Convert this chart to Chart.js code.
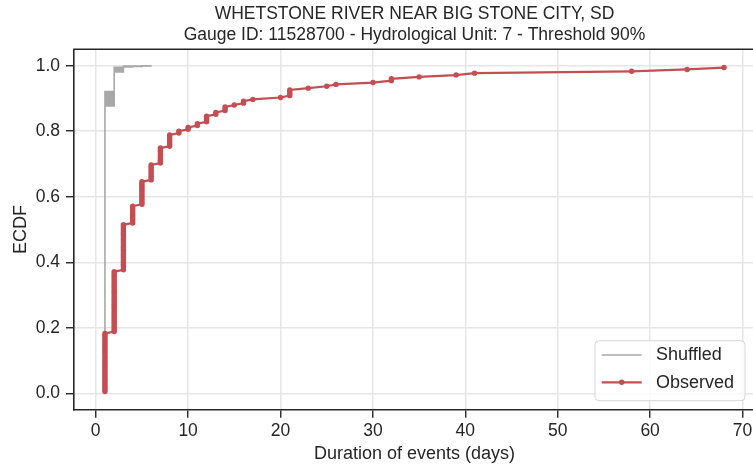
<!DOCTYPE html>
<html>
<head>
<meta charset="utf-8">
<script src="https://cdn.jsdelivr.net/npm/chart.js@4.4.1/dist/chart.umd.min.js"></script>
<style>
  html, body { margin: 0; padding: 0; background: #ffffff; overflow: hidden; }
  #wrap { width: 760px; height: 467px; }
</style>
</head>
<body>
<div id="wrap"><canvas id="ecdf" width="760" height="467"></canvas></div>
<script>
// ---- chart text ----
const titleLines = [
  'WHETSTONE RIVER NEAR BIG STONE CITY, SD',
  'Gauge ID: 11528700 - Hydrological Unit: 7 - Threshold 90%'
];
const xAxisLabel = 'Duration of events (days)';
const yAxisLabel = 'ECDF';
const xTickValues = [0, 10, 20, 30, 40, 50, 60, 70];
const yTickValues = [0.0, 0.2, 0.4, 0.6, 0.8, 1.0];

// ---- observed events: duration (days) and number of events of that duration ----
const durationDays = [1, 2, 3, 4, 5, 6, 7, 8, 9, 10, 11, 12, 13, 14, 15, 16, 17, 20, 21, 23, 25, 26, 30, 32, 35, 39, 41, 58, 64, 68];
const eventCounts  = [32, 33, 25, 10, 13, 9, 9, 7, 2, 2, 2, 4, 2, 3, 1, 2, 1, 1, 4, 1, 1, 1, 1, 2, 1, 1, 1, 1, 1, 1];

// ---- shuffled runs: cumulative share of events at each duration ----
const shuffledDurations = [1, 2, 3, 4, 5, 6];
const shuffledRuns = [
  [0.877, 0.983, 0.996, 1.000, null, null],
  [0.881, 0.989, 0.998, 1.000, null, null],
  [0.885, 0.985, 0.997, 0.999, 1.000, null],
  [0.889, 0.992, 0.999, 1.000, null, null],
  [0.893, 0.987, 0.997, 0.999, 0.9995, 1.000],
  [0.897, 0.994, 0.999, 1.000, null, null],
  [0.901, 0.981, 0.996, 0.998, 1.000, null],
  [0.905, 0.990, 0.998, 1.000, null, null],
  [0.909, 0.995, 1.000, null, null, null],
  [0.913, 0.988, 0.997, 0.999, 1.000, null],
  [0.917, 0.993, 0.999, 1.000, null, null],
  [0.921, 0.986, 0.998, 1.000, null, null]
];

const RED = '#c44e52';
const GRAY = '#a8a8a8';
const INK = '#262626';
const FONT = "'Liberation Sans', Arial, Helvetica, sans-serif";

// ECDF of observed durations, plotting position rank / (n + 1)
const totalEvents = eventCounts.reduce((a, b) => a + b, 0);
const observedPoints = [];
let rank = 0;
durationDays.forEach((d, i) => {
  for (let j = 0; j < eventCounts[i]; j++) {
    rank += 1;
    observedPoints.push({ x: d, y: rank / (totalEvents + 1) });
  }
});

// each shuffled run traced as its own step path; runs are separated by gaps
const shuffledPoints = [];
shuffledRuns.forEach(run => {
  shuffledPoints.push({ x: shuffledDurations[0], y: 0 });
  run.forEach((v, k) => {
    if (v === null) return;
    shuffledPoints.push({ x: shuffledDurations[k], y: v });
    const next = run[k + 1];
    if (next !== undefined && next !== null) {
      shuffledPoints.push({ x: shuffledDurations[k + 1], y: v });
    }
  });
  shuffledPoints.push({ x: shuffledDurations[0], y: null });
});

// top (and right) frame lines around the plotting area
const framePlugin = {
  id: 'frame',
  afterDraw(chart) {
    const { ctx, chartArea: a } = chart;
    ctx.save();
    ctx.strokeStyle = INK;
    ctx.lineWidth = 1.6;
    ctx.beginPath();
    ctx.moveTo(a.left - 0.8, a.top);
    ctx.lineTo(a.right, a.top);
    ctx.lineTo(a.right, a.bottom);
    ctx.stroke();
    ctx.restore();
  }
};

// legend box in the lower right corner of the plotting area
const cornerLegend = {
  id: 'cornerLegend',
  afterDatasetsDraw(chart) {
    const { ctx, chartArea: a } = chart;
    const w = 150, h = 60;
    const x0 = a.right - 10 - w;
    const y0 = a.bottom - 9 - h;
    ctx.save();
    ctx.beginPath();
    ctx.roundRect(x0, y0, w, h, 4);
    ctx.fillStyle = 'rgba(255,255,255,0.8)';
    ctx.fill();
    ctx.strokeStyle = 'rgba(204,204,204,0.8)';
    ctx.lineWidth = 1;
    ctx.stroke();
    const rows = [14.3, 41.6];
    chart.data.datasets.forEach((ds, i) => {
      const y = y0 + rows[i];
      ctx.strokeStyle = ds.borderColor;
      ctx.lineWidth = ds.borderWidth;
      ctx.beginPath();
      ctx.moveTo(x0 + 6.7, y);
      ctx.lineTo(x0 + 46.7, y);
      ctx.stroke();
      if (ds.pointRadius > 0) {
        ctx.fillStyle = ds.borderColor;
        ctx.beginPath();
        ctx.arc(x0 + 26.7, y, ds.pointRadius, 0, Math.PI * 2);
        ctx.fill();
      }
      ctx.fillStyle = INK;
      ctx.font = '18px ' + FONT;
      ctx.textBaseline = 'middle';
      ctx.textAlign = 'left';
      ctx.fillText(ds.label, x0 + 61, y + 0.5);
    });
    ctx.restore();
  }
};

const tickFont = { family: FONT, size: 17.5 };
const axisTitleFont = { family: FONT, size: 18, lineHeight: 1.2 };

new Chart(document.getElementById('ecdf'), {
  type: 'line',
  data: {
    datasets: [
      {
        label: 'Shuffled',
        data: shuffledPoints,
        borderColor: GRAY,
        borderWidth: 1.6,
        pointRadius: 0,
        spanGaps: false,
        tension: 0,
        order: 2
      },
      {
        label: 'Observed',
        data: observedPoints,
        borderColor: RED,
        backgroundColor: RED,
        borderWidth: 2.2,
        pointRadius: 2.7,
        pointBorderWidth: 0,
        pointBackgroundColor: RED,
        tension: 0,
        order: 1
      }
    ]
  },
  options: {
    responsive: false,
    animation: false,
    events: [],
    layout: { padding: { left: 0, right: 5, top: 0, bottom: 0 } },
    plugins: {
      legend: { display: false },
      tooltip: { enabled: false },
      title: {
        display: true,
        text: titleLines,
        fullSize: false,
        color: INK,
        font: { family: FONT, size: 17.5, weight: 'normal', lineHeight: 1.2 },
        padding: { top: 3.5, bottom: 3.8 }
      }
    },
    scales: {
      x: {
        type: 'linear',
        min: -2.35,
        max: 71.35,
        afterBuildTicks: s => { s.ticks = xTickValues.map(v => ({ value: v })); },
        afterFit: s => { s.height = 57.3; },
        ticks: { color: INK, font: tickFont, padding: 3, maxRotation: 0, callback: v => String(v) },
        grid: { color: '#e6e6e6', lineWidth: 1.5, tickColor: INK, tickLength: 8, tickWidth: 1.4 },
        border: { color: INK, width: 1.6 },
        title: { display: true, text: xAxisLabel, color: INK, font: axisTitleFont, padding: { top: 0, bottom: 2.2 } }
      },
      y: {
        type: 'linear',
        min: -0.05,
        max: 1.05,
        afterBuildTicks: s => { s.ticks = yTickValues.map(v => ({ value: v })); },
        afterFit: s => { s.width = 74; },
        ticks: { color: INK, font: tickFont, padding: 6, callback: v => Number(v).toFixed(1) },
        grid: { color: '#e6e6e6', lineWidth: 1.5, tickColor: INK, tickLength: 8, tickWidth: 1.4 },
        border: { color: INK, width: 1.6 },
        title: { display: true, text: yAxisLabel, color: INK, font: axisTitleFont, padding: { top: 10, bottom: 0 } }
      }
    }
  },
  plugins: [framePlugin, cornerLegend]
});
</script>
</body>
</html>
